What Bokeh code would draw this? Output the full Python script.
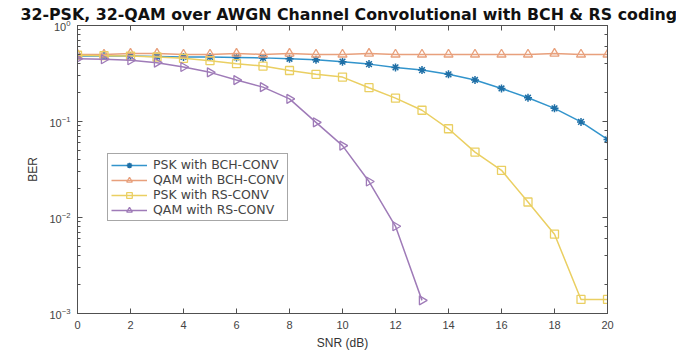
import math
from bokeh.plotting import figure
from bokeh.models import FixedTicker, LinearAxis, LogAxis, Legend, LegendItem
from bokeh.embed import file_html
from bokeh.resources import INLINE

snr = list(range(0, 21))
psk_bch = [0.48, 0.48, 0.48, 0.475, 0.47, 0.47, 0.465, 0.46, 0.45, 0.44, 0.42,
           0.396, 0.366, 0.343, 0.31, 0.271, 0.221, 0.177, 0.137, 0.099, 0.065]
qam_bch = [0.50, 0.50, 0.51, 0.51, 0.50, 0.50, 0.51, 0.50, 0.51, 0.50, 0.50,
           0.51, 0.50, 0.50, 0.50, 0.50, 0.50, 0.50, 0.51, 0.50, 0.50]
psk_rs = [0.49, 0.485, 0.48, 0.47, 0.455, 0.43, 0.40, 0.378, 0.34, 0.31, 0.29,
          0.225, 0.175, 0.131, 0.084, 0.048, 0.031, 0.0145, 0.0067, 0.0014, 0.0014]
snr_qam_rs = list(range(0, 14))
qam_rs = [0.45, 0.445, 0.435, 0.41, 0.37, 0.325, 0.27, 0.228, 0.172, 0.098,
          0.056, 0.0237, 0.0081, 0.00137]
x_ticks = [0, 2, 4, 6, 8, 10, 12, 14, 16, 18, 20]

title_text = "32-PSK, 32-QAM over AWGN Channel Convolutional with BCH & RS coding"
c_blue = "#3294cc"
c_orange = "#e8a07c"
c_yellow = "#eacf62"
c_purple = "#9f7bb8"
axis_col = "#505050"
font = "Liberation Sans"

p = figure(width=676, height=352, y_axis_type="log", x_range=(0, 20),
           y_range=(1e-3, 1.0), output_backend="svg", toolbar_location=None,
           min_border_left=77, min_border_right=69, min_border_bottom=36,
           min_border_top=25, title=title_text)
p.title.text_font = "DejaVu Sans"
p.title.text_font_size = "15.8px"
p.title.text_font_style = "bold"
p.title.text_color = "#111111"
p.title.align = "left"
p.title.vertical_align = "top"
p.title.standoff = 0
p.title.offset = -57
p.grid.visible = False
p.outline_line_color = axis_col

for ax in (p.xaxis[0], p.yaxis[0]):
    ax.axis_line_color = axis_col
    ax.major_tick_line_color = axis_col
    ax.minor_tick_line_color = axis_col
    ax.major_tick_in = 5
    ax.major_tick_out = 0
    ax.minor_tick_in = 3
    ax.minor_tick_out = 0
    ax.major_label_text_font = font
    ax.major_label_text_font_size = "11px"
    ax.major_label_text_color = "#444444"
    ax.axis_label_text_font = font
    ax.axis_label_text_font_size = "12px"
    ax.axis_label_text_font_style = "normal"
    ax.axis_label_text_color = "#333333"

p.xaxis[0].ticker = FixedTicker(ticks=x_ticks)
p.xaxis[0].minor_tick_line_color = None
p.xaxis[0].axis_label = "SNR (dB)"
p.xaxis[0].major_label_standoff = 7
p.xaxis[0].axis_label_standoff = 4
p.yaxis[0].axis_label = "BER"
p.yaxis[0].major_label_standoff = 7
p.yaxis[0].axis_label_standoff = 6

top = LinearAxis(ticker=FixedTicker(ticks=x_ticks), major_label_text_color=None,
                 major_label_text_font_size="2px", major_label_standoff=0,
                 axis_line_color=axis_col, major_tick_line_color=axis_col,
                 major_tick_in=5, major_tick_out=0, minor_tick_line_color=None)
p.add_layout(top, "above")
right = LogAxis(major_label_text_color=None, major_label_text_font_size="2px",
                major_label_standoff=0, axis_line_color=axis_col,
                major_tick_line_color=axis_col, minor_tick_line_color=axis_col,
                major_tick_in=5, major_tick_out=0, minor_tick_in=3, minor_tick_out=0)
p.add_layout(right, "right")

l1 = p.line(snr, psk_bch, line_color=c_blue, line_width=1.5)
m1 = p.scatter(snr, psk_bch, marker="asterisk", size=8, line_color="#1f6fa6", line_width=1.5)
l2 = p.line(snr, qam_bch, line_color=c_orange, line_width=1.5)
m2 = p.scatter(snr, qam_bch, marker="triangle", size=9, line_color=c_orange,
               fill_color=None, line_width=1.3)
l3 = p.line(snr, psk_rs, line_color=c_yellow, line_width=1.5)
m3 = p.scatter(snr, psk_rs, marker="square", size=8, line_color=c_yellow,
               fill_color=None, line_width=1.3)
l4 = p.line(snr_qam_rs, qam_rs, line_color=c_purple, line_width=1.5)
m4 = p.scatter(snr_qam_rs, qam_rs, marker="triangle", angle=-math.pi / 2, size=9,
               line_color=c_purple, fill_color=None, line_width=1.3)

legend = Legend(items=[
    LegendItem(label="PSK with BCH-CONV", renderers=[l1, m1]),
    LegendItem(label="QAM with BCH-CONV", renderers=[l2, m2]),
    LegendItem(label="PSK with RS-CONV", renderers=[l3, m3]),
    LegendItem(label="QAM with RS-CONV", renderers=[l4, m4]),
], location=(30, 92))
legend.label_text_font = "DejaVu Sans"
legend.label_text_font_size = "12.5px"
legend.label_text_color = "#444444"
legend.label_height = 14
legend.glyph_height = 14
legend.glyph_width = 36
legend.spacing = 0
legend.padding = 3
legend.margin = 0
legend.border_line_color = axis_col
legend.label_standoff = 6
p.add_layout(legend, "center")

open("out.html", "w").write(file_html(p, INLINE))
